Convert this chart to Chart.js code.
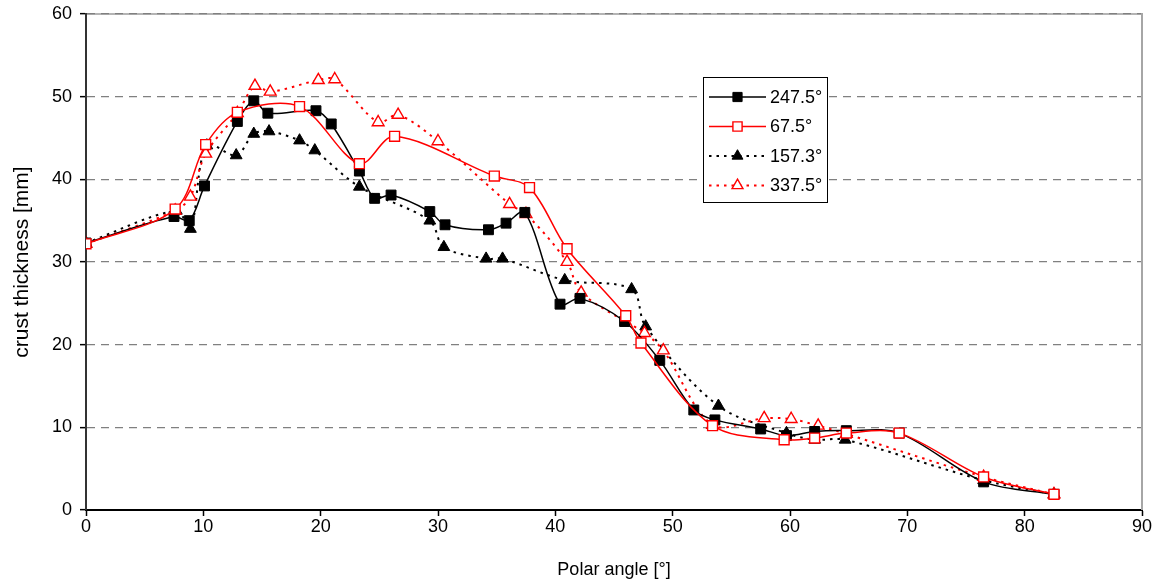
<!DOCTYPE html>
<html><head><meta charset="utf-8">
<script src="https://cdn.jsdelivr.net/npm/chart.js@4"></script>
<style>html,body{margin:0;padding:0;background:#fff}</style>
</head><body>
<canvas id="c" width="1157" height="582" style="display:block"></canvas>
<script>
// ---- data ----
const xTickValues = [0, 10, 20, 30, 40, 50, 60, 70, 80, 90];
const yTickValues = [0, 10, 20, 30, 40, 50, 60];

const seriesNames = ['247.5°', '67.5°', '157.3°', '337.5°'];

const angle247 = [0, 7.5, 8.8, 10.1, 12.9, 14.3, 15.5, 19.6, 20.9, 23.3, 24.6, 26.0, 29.3, 30.6, 34.3, 35.8, 37.4, 40.4, 42.1, 45.9, 48.9, 51.8, 53.6, 57.5, 59.7, 62.1, 64.8, 69.3, 76.5, 82.5];
const thick247 = [32.3, 35.5, 35.0, 39.2, 47.0, 49.5, 48.0, 48.3, 46.7, 41.0, 37.7, 38.1, 36.1, 34.5, 33.9, 34.7, 36.0, 24.9, 25.6, 22.8, 18.1, 12.1, 10.9, 9.8, 9.0, 9.5, 9.6, 9.3, 3.4, 1.9];

const angle67 = [0, 7.6, 10.2, 12.9, 18.2, 23.3, 26.3, 34.8, 37.8, 41.0, 46.0, 47.3, 53.4, 59.5, 62.1, 64.8, 69.3, 76.5, 82.5];
const thick67 = [32.2, 36.4, 44.2, 48.1, 48.8, 41.9, 45.2, 40.4, 39.0, 31.6, 23.5, 20.2, 10.2, 8.5, 8.7, 9.3, 9.3, 4.0, 1.9];

const angle157 = [0, 7.7, 8.9, 10.3, 12.8, 14.3, 15.6, 18.2, 19.5, 23.3, 29.3, 30.5, 34.1, 35.5, 40.8, 46.5, 47.7, 53.9, 59.7, 62.1, 64.7, 76.5, 82.5];
const thick157 = [32.3, 36.2, 34.0, 44.1, 42.9, 45.5, 45.8, 44.7, 43.5, 39.1, 35.0, 31.8, 30.4, 30.4, 27.8, 26.7, 22.2, 12.6, 9.3, 8.5, 8.5, 3.6, 1.9];

const angle337 = [0, 7.6, 8.9, 10.2, 12.9, 14.4, 15.7, 19.8, 21.2, 24.9, 26.6, 30.0, 36.1, 37.5, 41.0, 42.2, 47.6, 49.2, 53.4, 57.8, 60.1, 62.4, 64.8, 76.5, 82.5];
const thick337 = [32.2, 36.2, 37.9, 43.1, 48.0, 51.3, 50.6, 52.0, 52.1, 46.9, 47.8, 44.6, 37.0, 35.8, 30.0, 26.3, 21.4, 19.3, 10.3, 11.1, 11.0, 10.2, 9.2, 4.0, 1.9];

// ---- build ----
const pts = (xs, ys) => xs.map((x, i) => ({x: x, y: ys[i]}));
const FONT = "'Liberation Sans', Arial, sans-serif";

const datasets = [
  {label: seriesNames[0], data: pts(angle247, thick247), borderColor: '#000', backgroundColor: '#000',
   borderWidth: 1.5, pointStyle: 'rect', pointRadius: 7, pointBorderWidth: 1, pointBorderColor: '#000', pointBackgroundColor: '#000', tension: 0.33, order: 2},
  {label: seriesNames[1], data: pts(angle67, thick67), borderColor: '#ff0000', backgroundColor: '#fff',
   borderWidth: 1.5, pointStyle: 'rect', pointRadius: 7, pointBorderWidth: 1.4, pointBorderColor: '#ff0000', pointBackgroundColor: '#fff', tension: 0.33, order: 1},
  {label: seriesNames[2], data: pts(angle157, thick157), borderColor: '#000', backgroundColor: '#000',
   borderWidth: 2, borderDash: [2.5, 5], pointStyle: 'triangle', pointRadius: 6.8, pointBorderWidth: 1, pointBorderColor: '#000', pointBackgroundColor: '#000', tension: 0.33, order: 4},
  {label: seriesNames[3], data: pts(angle337, thick337), borderColor: '#ff0000', backgroundColor: '#fff',
   borderWidth: 2, borderDash: [2.5, 5], pointStyle: 'triangle', pointRadius: 6.8, pointBorderWidth: 1.4, pointBorderColor: '#ff0000', pointBackgroundColor: '#fff', tension: 0.33, order: 3}
];

const framePlugin = {
  id: 'frame',
  beforeDraw(chart) {
    const {ctx, chartArea: a} = chart;
    if (!a) return;
    ctx.save();
    ctx.strokeStyle = '#b4b4b4';
    ctx.lineWidth = 2;
    ctx.setLineDash([]);
    ctx.beginPath();
    ctx.moveTo(a.left, a.top);
    ctx.lineTo(a.right, a.top);
    ctx.stroke();
    ctx.restore();
  },
  beforeDatasetsDraw(chart) {
    const {ctx, chartArea: a} = chart;
    ctx.save();
    ctx.strokeStyle = '#a6a6a6';
    ctx.lineWidth = 2;
    ctx.setLineDash([]);
    ctx.beginPath();
    ctx.moveTo(a.right, a.bottom);
    ctx.lineTo(a.right, a.top - 1);
    ctx.stroke();
    ctx.restore();
  }
};

const legendPlugin = {
  id: 'boxLegend',
  afterDraw(chart) {
    const ctx = chart.ctx;
    const bx = 703, by = 77, bw = 124, bh = 125;
    ctx.save();
    ctx.fillStyle = '#fff';
    ctx.fillRect(bx, by, bw, bh);
    ctx.strokeStyle = '#000';
    ctx.lineWidth = 1;
    ctx.setLineDash([]);
    ctx.strokeRect(bx + 0.5, by + 0.5, bw, bh);
    const rows = [97, 126.5, 156, 185.5];
    chart.data.datasets.forEach((ds, i) => {
      const y = rows[i];
      ctx.strokeStyle = ds.borderColor;
      ctx.lineWidth = ds.borderWidth;
      ctx.setLineDash(ds.borderDash || []);
      ctx.beginPath();
      ctx.moveTo(709, y);
      ctx.lineTo(766, y);
      ctx.stroke();
      ctx.setLineDash([]);
      ctx.fillStyle = ds.pointBackgroundColor;
      ctx.strokeStyle = ds.pointBorderColor;
      ctx.lineWidth = ds.pointBorderWidth;
      Chart.helpers.drawPoint(ctx, {pointStyle: ds.pointStyle, radius: ds.pointRadius - 0.5, rotation: 0, borderWidth: ds.pointBorderWidth}, 737.5, y);
      ctx.fillStyle = '#000';
      ctx.font = "18px " + FONT;
      ctx.textAlign = 'left';
      ctx.textBaseline = 'middle';
      ctx.fillText(ds.label, 770, y + 1);
    });
    ctx.restore();
  }
};

new Chart(document.getElementById('c'), {
  type: 'line',
  data: {datasets: datasets},
  plugins: [framePlugin, legendPlugin],
  options: {
    responsive: false,
    animation: false,
    events: [],
    layout: {padding: {top: 14, right: 15, left: 0, bottom: 0}},
    plugins: {legend: {display: false}, tooltip: {enabled: false}},
    scales: {
      x: {
        type: 'linear', min: 0, max: 90,
        afterBuildTicks: s => { s.ticks = xTickValues.map(v => ({value: v})); },
        afterFit: s => { s.height = 72; s.paddingLeft = 0; s.paddingRight = 0; },
        ticks: {color: '#000', font: {family: FONT, size: 18}, padding: 0, maxRotation: 0, autoSkip: false},
        grid: {drawOnChartArea: false, drawTicks: true, tickLength: 6, tickColor: '#000', tickWidth: 1.5},
        border: {display: true, color: '#000', width: 2},
        title: {display: true, text: 'Polar angle [°]', color: '#000', font: {family: FONT, size: 18}, padding: {top: 0, bottom: 1}}
      },
      y: {
        type: 'linear', min: 0, max: 60,
        afterBuildTicks: s => { s.ticks = yTickValues.map(v => ({value: v})); },
        afterFit: s => { s.width = 86; s.paddingTop = 0; s.paddingBottom = 0; },
        ticks: {color: '#000', font: {family: FONT, size: 18}, padding: 8},
        grid: {color: '#808080', lineWidth: 1.3, borderDash: [8, 6], tickBorderDash: [], drawTicks: true, tickLength: 6, tickColor: '#000', tickWidth: 1.5},
        border: {display: true, color: '#333', width: 2, dash: [8, 6]},
        title: {display: true, text: 'crust thickness [mm]', color: '#000', font: {family: FONT, size: 21}, padding: {top: 10, bottom: 0}}
      }
    }
  }
});
</script>
</body></html>
